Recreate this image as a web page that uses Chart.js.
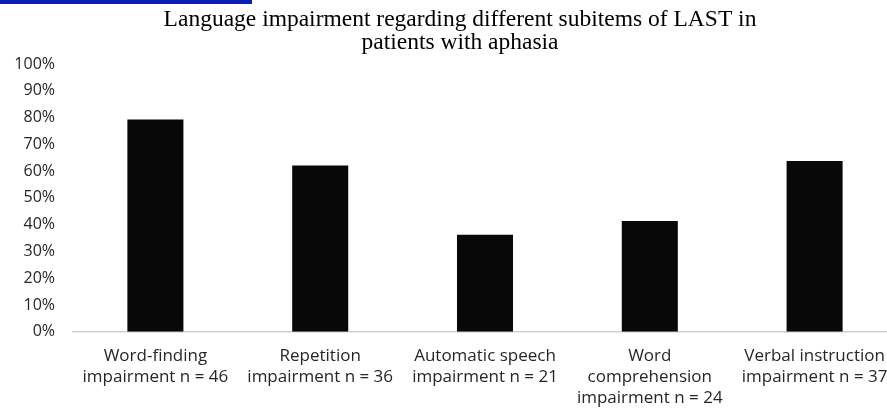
<!DOCTYPE html>
<html>
<head>
<meta charset="utf-8">
<script src="https://cdn.jsdelivr.net/npm/chart.js@4/dist/chart.umd.min.js"></script>
<style>
html,body{margin:0;padding:0;background:#fff;overflow:hidden;width:887px;height:412px;}
#wrap{position:absolute;left:0;top:0;width:920px;height:427px;}
#logo{position:absolute;left:0;top:0;width:252px;height:4px;background:#0b1fb5;z-index:2;}
</style>
</head>
<body>
<div id="logo"></div>
<div id="wrap"><canvas id="c" width="920" height="427"></canvas></div>
<script>
const titleLines = ["Language impairment regarding different subitems of LAST in", "patients with aphasia"];
const categories = [
  ["Word-finding", "impairment n = 46"],
  ["Repetition", "impairment n = 36"],
  ["Automatic speech", "impairment n = 21"],
  ["Word", "comprehension", "impairment n = 24"],
  ["Verbal instruction", "impairment n = 37"]
];
const percentValues = [79.3, 62.1, 36.2, 41.4, 63.8];
const yTicks = [0, 10, 20, 30, 40, 50, 60, 70, 80, 90, 100];

const titlePlugin = {
  id: 'centeredTitle',
  afterDraw(chart) {
    const ctx = chart.ctx;
    ctx.save();
    ctx.fillStyle = '#000';
    ctx.font = '23.5px "Liberation Serif"';
    ctx.textAlign = 'center';
    ctx.textBaseline = 'middle';
    titleLines.forEach((line, i) => ctx.fillText(line, 460, 20 + i * 23));
    ctx.restore();
  }
};

new Chart(document.getElementById('c'), {
  type: 'bar',
  data: {
    labels: categories,
    datasets: [{
      data: percentValues,
      backgroundColor: '#080808',
      borderWidth: 0,
      barPercentage: 0.68,
      categoryPercentage: 0.5
    }]
  },
  plugins: [titlePlugin],
  options: {
    responsive: false,
    animation: false,
    layout: { padding: { left: 0, right: 23, top: 64, bottom: 4 } },
    plugins: {
      legend: { display: false },
      tooltip: { enabled: false },
      title: { display: false }
    },
    scales: {
      x: {
        grid: { display: false, drawTicks: false },
        border: { display: true, color: '#d0d0d0', width: 1.5 },
        ticks: {
          color: '#262626',
          font: { family: 'Open Sans', size: 17, lineHeight: 1.24 },
          autoSkip: false,
          maxRotation: 0,
          minRotation: 0,
          padding: 14
        }
      },
      y: {
        min: 0,
        max: 100,
        afterBuildTicks: (axis) => { axis.ticks = yTicks.map(v => ({ value: v })); },
        afterFit: (axis) => { axis.width = 73; },
        grid: { display: false, drawTicks: false },
        border: { display: false },
        ticks: {
          color: '#262626',
          font: { family: 'Open Sans', size: 16 },
          padding: 18,
          callback: (v) => v + '%'
        }
      }
    }
  }
});
</script>
</body>
</html>
